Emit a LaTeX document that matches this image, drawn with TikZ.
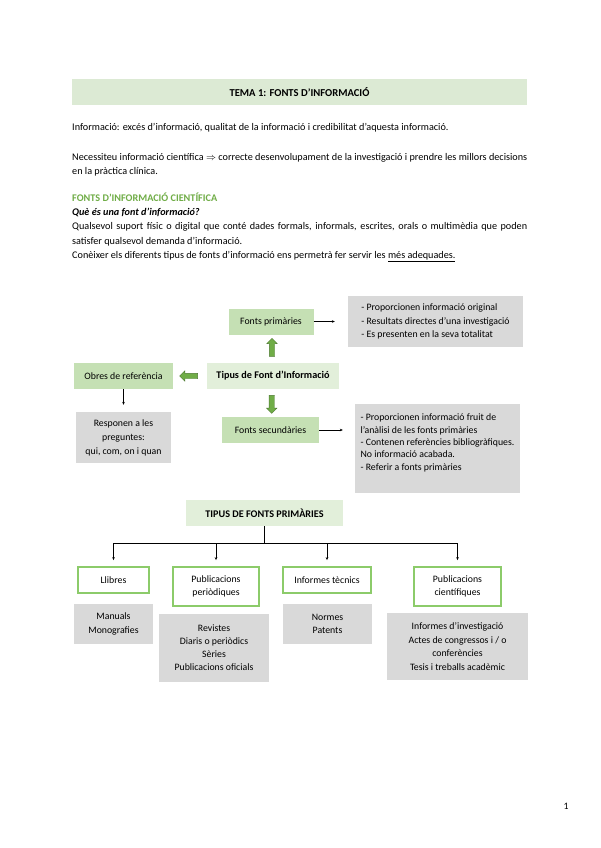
\documentclass[tikz,border=0pt]{standalone}
\usepackage{fontspec}
\setmainfont{Carlito}
\usepackage{xcolor}
\usepackage{tikz}
\usetikzlibrary{arrows.meta,shapes.arrows,positioning,calc}

\definecolor{hdrgreen}{HTML}{DCEAD4}
\definecolor{lightgreen}{HTML}{E2EFDA}
\definecolor{midgreen}{HTML}{C5E0B4}
\definecolor{framegreen}{HTML}{8CCB6A}
\definecolor{arrowgreen}{HTML}{70AD47}
\definecolor{titlegreen}{HTML}{70AD47}
\definecolor{boxgray}{HTML}{D9D9D9}

\begin{document}
\begin{tikzpicture}[x=1pt,y=-1pt,
		every node/.style={font=\fontsize{9.8}{13.5}\selectfont, inner sep=0pt},
		txt/.style={anchor=base west, align=justify, text width=455pt, font=\fontsize{10.2}{14.4}\selectfont},
		greenbox/.style={fill=midgreen, minimum height=26pt},
		lightbox/.style={fill=lightgreen, minimum height=26pt, font=\fontsize{10.2}{13}\selectfont\bfseries},
		graybox/.style={fill=boxgray, align=center},
		typebox/.style={draw=framegreen, line width=1.8pt, fill=white, align=center},
		blockarrow/.style={single arrow, fill=arrowgreen, draw=arrowgreen!70!black, line width=0.4pt,
			minimum height=18pt, minimum width=10pt, single arrow head extend=2.5pt, inner sep=2.5pt},
		thin/.style={-{Stealth[length=3pt,width=2.6pt]}, line width=0.6pt}
	]
		\fill[white] (0,0) rectangle (600,848);
		\useasboundingbox (0,0) rectangle (600,848);

		% heading and text
		\node[fill=hdrgreen, minimum width=455pt, minimum height=26pt, font=\fontsize{10.6}{13}\selectfont\bfseries] (tema) at (299.5,92) {TEMA 1: FONTS D’INFORMACIÓ};
		\node[txt] (intro) at (72,131) {Informació: excés d’informació, qualitat de la informació i credibilitat d’aquesta informació.};
		\node[txt] (need) at (72,160) {Necessiteu informació científica $\Rightarrow$ correcte desenvolupament de la investigació i prendre les millors decisions\linebreak en la pràctica clínica.};
		\node[txt] (def) at (72,201) {{\color{titlegreen}\bfseries FONTS D’INFORMACIÓ CIENTÍFICA}\\
			{\bfseries\itshape Què és una font d’informació?}\\
			Qualsevol suport físic o digital que conté dades formals, informals, escrites, orals o multimèdia que poden\linebreak satisfer qualsevol demanda d’informació.\\
			Conèixer els diferents tipus de fonts d’informació ens permetrà fer servir les \underline{més adequades.}};

		% tipus de font d'informacio
		\node[lightbox, minimum width=132pt] (tipus) at (273,376) {Tipus de Font d’Informació};
		\node[greenbox, minimum width=85pt] (fp) at (271,321.5) {Fonts primàries};
		\node[greenbox, minimum width=97pt] (fs) at (270.5,430) {Fonts secundàries};
		\node[greenbox, minimum width=99pt] (obres) at (123.5,376) {Obres de referència};
		\node[graybox, minimum width=175pt, minimum height=51pt, align=left] (gp) at (435.5,321.5)
			{- Proporcionen informació original\\- Resultats directes d’una investigació\\- Es presenten en la seva totalitat};
		\node[graybox, minimum width=165pt, minimum height=89pt, align=left, font=\fontsize{9.8}{12.4}\selectfont] (gs) at (437.5,448.5)
			{- Proporcionen informació fruit de\\l’anàlisi de les fonts primàries\\- Contenen referències bibliogràfiques.\\No informació acabada.\\- Referir a fonts primàries\rule[-13pt]{0pt}{1pt}};
		\node[graybox, minimum width=95pt, minimum height=51pt, font=\fontsize{9.8}{14}\selectfont] (resp) at (123.5,437.5) {Responen a les\\preguntes:\\qui, com, on i quan};

		\node[blockarrow, shape border rotate=90] (upA) at ($(tipus.north)!0.5!(fp.south)$) {};
		\node[blockarrow, shape border rotate=270] (downA) at ($(tipus.south)!0.5!(fs.north)$) {};
		\node[blockarrow, shape border rotate=180] (leftA) at ($(obres.east)!0.5!(tipus.west)$) {};

		\draw[thin, shorten >=13pt] (fp.east) -- (fp.east -| gp.west);
		\draw[thin, shorten >=12pt] (fs.east) -- (fs.east -| gs.west);
		\draw[thin, shorten >=7pt] (obres.south) -- (resp.north);

		% tipus de fonts primaries
		\node[lightbox, minimum width=157pt] (tfp) at (264.5,513) {TIPUS DE FONTS PRIMÀRIES};
		\node[typebox, minimum width=71pt, minimum height=26pt] (llib) at (113.5,580) {Llibres};
		\node[typebox, minimum width=86pt, minimum height=39pt] (pp) at (216,586.5) {Publicacions\\periòdiques};
		\node[typebox, minimum width=88pt, minimum height=26pt] (it) at (327,580) {Informes tècnics};
		\node[typebox, minimum width=87pt, minimum height=39pt] (pc) at (457.5,586.5) {Publicacions\\científiques};

		\node[graybox, minimum width=79pt, minimum height=40pt] (gl) at (113.5,624) {Manuals\\Monografies};
		\node[graybox, minimum width=110pt, minimum height=68pt, font=\fontsize{9.8}{13}\selectfont] (gpp) at (214,648) {Revistes\\Diaris o periòdics\\Sèries\\Publicacions oficials};
		\node[graybox, minimum width=89pt, minimum height=40pt] (git) at (327.5,624) {Normes\\Patents};
		\node[graybox, minimum width=141pt, minimum height=67pt] (gpc) at (457.5,646.5) {Informes d’investigació\\Actes de congressos i / o\\conferències\\Tesis i treballs acadèmic};

		\coordinate (bus) at ($(tfp.south)+(0,17)$);
		\draw[line width=0.6pt] (tfp.south) -- (bus);
		\draw[line width=0.6pt] (llib.north |- bus) -- (pc.north |- bus);
		\foreach \n in {llib,pp,it,pc}
			\draw[thin, shorten >=6pt] (\n.north |- bus) -- (\n.north);

		\node (pnum) at (566,806) {1};
	\end{tikzpicture}
\end{document}
